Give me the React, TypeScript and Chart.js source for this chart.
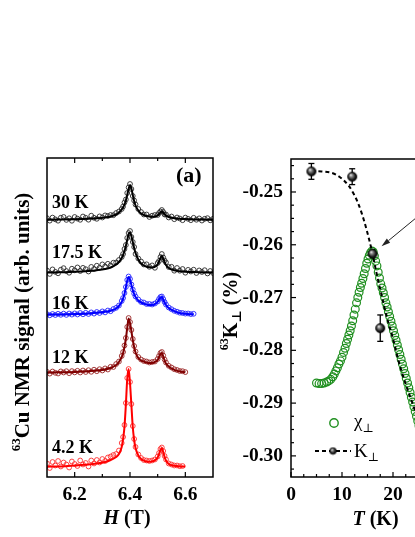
import React, { useEffect, useRef } from "react";
import { Chart, registerables } from "chart.js";

Chart.register(...registerables);

const SERIF = "'Liberation Serif', 'DejaVu Serif', 'Times New Roman', serif";

// ---------------- panel (a): 63Cu NMR spectra ----------------
const fieldFit = [6.10, 6.15, 6.20, 6.25, 6.28, 6.31, 6.33, 6.35, 6.36, 6.37, 6.375, 6.38, 6.385, 6.39, 6.395, 6.40, 6.405, 6.41, 6.415, 6.42, 6.43, 6.44, 6.45, 6.46, 6.47, 6.48, 6.49, 6.50, 6.505, 6.51, 6.515, 6.52, 6.525, 6.53, 6.54, 6.56, 6.58, 6.60, 6.63, 6.67, 6.70];
const fieldData = [6.10, 6.11, 6.12, 6.13, 6.14, 6.15, 6.16, 6.17, 6.18, 6.19, 6.20, 6.21, 6.22, 6.23, 6.24, 6.25, 6.26, 6.27, 6.28, 6.29, 6.30, 6.31, 6.32, 6.33, 6.34, 6.35, 6.36, 6.37, 6.375, 6.38, 6.385, 6.39, 6.395, 6.40, 6.405, 6.41, 6.415, 6.42, 6.43, 6.44, 6.45, 6.46, 6.47, 6.48, 6.49, 6.50, 6.505, 6.51, 6.515, 6.52, 6.525, 6.53, 6.54, 6.55, 6.56, 6.57, 6.58, 6.59, 6.60, 6.61, 6.62, 6.63, 6.64, 6.65, 6.66, 6.67, 6.68, 6.69, 6.70];

const traceLabels = ["30 K", "17.5 K", "16 K", "12 K", "4.2 K"];
const traceOffsets = [257, 204, 162, 104, 10];

const fit30 = [0.3, 0.5, 0.8, 1.3, 1.8, 2.6, 3.5, 5.5, 7.5, 10.5, 12.5, 15.5, 19.5, 25, 31, 35, 31.5, 25, 19, 14.5, 9.5, 6.5, 5, 4, 3.5, 3.3, 3.5, 4.5, 6, 7.5, 8.5, 7.5, 6, 4.5, 3, 1.8, 1.2, 0.9, 0.6, 0.4, 0.3];
const fit175 = [0.5, 0.8, 1.2, 2.0, 2.8, 4.0, 5.5, 8.5, 11, 15, 18, 22, 27, 33, 39, 40.5, 37, 31, 25, 20, 13.5, 9.5, 7.5, 6.2, 5.7, 5.6, 6.2, 8.5, 11.5, 15, 17, 14.5, 11, 8, 5, 2.8, 1.8, 1.3, 0.9, 0.6, 0.5];
const fit16 = [0.3, 0.6, 1.0, 1.6, 2.2, 3.2, 4.2, 6.5, 9, 13, 16.5, 21, 27.5, 34.5, 38, 35.5, 30, 25, 21, 18, 14.5, 12.5, 11.5, 10.5, 10, 10, 10.8, 13, 15.5, 17.5, 18, 15.5, 12.5, 10, 7, 3.8, 2, 1.2, 0.7];
const fit12 = [0.4, 0.7, 1.1, 1.8, 2.5, 3.6, 5, 8, 11, 16, 20, 26, 34, 45, 54.5, 50, 42, 33, 26, 20.5, 15, 12.5, 11.5, 10.5, 10, 10, 11, 13, 16, 19, 20, 16.5, 12.5, 9.5, 6.5, 3.2, 1.6, 0.8];
const fit42 = [0.3, 0.6, 1.5, 2.5, 3.5, 5, 7, 10, 13, 20, 28, 40, 62, 88, 98, 84, 62, 40, 27, 19, 11.5, 8, 6.3, 5.5, 5.3, 5.6, 6.8, 9.5, 13, 17, 19, 15, 10, 6.5, 3, 1.2, 0.6, 0.4];

const data30 = [1.8, -0.65, 2.4, 0.65, -0.7, 2.3, 3.05, 0.1, 1.7, -0.75, 3.0, 1.4, 0.2, 3.5, 2.2, 0.3, 4.3, 2.2, 1.2, 3.6, 2.5, 4.6, 4.0, 5.0, 4.8, 7.0, 8.5, 11, 13.5, 17.5, 20.5, 27, 32.5, 36, 31, 24, 19.5, 15.5, 11, 8, 5.5, 5.5, 3, 4.3, 5, 5, 7, 8.5, 10, 8, 5.5, 5.5, 2.5, 3.5, 0.8, 2.5, 1.5, -0.2, 2.4, 1.2, -0.2, 2.2, 0.25, 1.6, -0.55, 1.2, 1.85, -0.3, 1.2];
const data175 = [2.5, -0.95, 3.6, 1.15, -0.3, 3.3, 4.85, 1.95, 0.25, 4.3, 2.7, 5.55, 2.0, 5.15, 3.8, 1.5, 6.1, 4.0, 7.3, 5.2, 8.6, 6.5, 9.2, 7.5, 10.3, 10.5, 13, 16, 19, 24, 28, 35, 40, 42, 36, 31, 26, 19, 14.5, 11.5, 8.5, 8.7, 6.2, 7.6, 5.2, 10, 12, 16, 19, 15.5, 12.5, 10.5, 6, 6.2, 2.3, 5.0, 2.3, 4.0, 0.3, 3.15, 1.5, 3.3, 0, 2.55, 1.0, 2.8, -0.45, 2.0, 0];
const data16 = [0.8, -0.3, 1.0, 0.0, 1.2, 0.2, 1.4, 0.1, 1.5, 0.4, 1.6, 0.5, 2.0, 0.7, 2.2, 1.0, 2.6, 1.4, 3.0, 2.0, 3.6, 2.6, 4.5, 3.8, 6.0, 7.2, 9.5, 14, 17, 22, 28, 35, 38.5, 36, 30.5, 25.5, 21.5, 18.5, 15.5, 13, 12.5, 11, 11, 10.5, 11.5, 13.5, 16, 18, 18.5, 16, 13, 10.5, 7.5, 5.8, 4.2, 3.3, 2.3, 2.0, 1.4, 1.5, 0.9, 1.2];
const data12 = [1.2, -0.6, 1.5, 0.2, -0.5, 1.6, 0.5, 1.8, -0.2, 1.9, 0.6, 2.2, 0.5, 2.5, 1.0, 2.8, 1.2, 3.3, 1.8, 3.8, 2.5, 4.6, 3.5, 6.2, 6.0, 9.0, 11.5, 17, 21, 27.5, 35, 46, 55, 51, 43, 34, 27, 21.5, 16, 13.5, 12, 11.5, 10.5, 11, 11.5, 14, 17, 20, 21, 17.5, 13.5, 10.5, 7.2, 5.5, 3.8, 3.0, 2.0, 1.8, 0.9];
const data42 = [3.5, -1.0, 5.0, 1.5, 6.0, 0.5, 4.5, 2.5, -0.5, 5.5, 3.0, 1.0, 6.5, 2.5, 4.0, 0.5, 6.5, 3.5, 7.0, 4.5, 8.0, 6.0, 9.5, 10.5, 12, 13, 16.5, 24, 30, 42, 64, 89, 98, 85, 63, 41, 28, 20, 12.5, 9, 7, 6.5, 6, 6.5, 7.5, 10.5, 14, 18, 19.5, 16, 11, 7.5, 3.5, 2.5, 1.5, 1.5, 0.8, 1.0];

const hTicks = [6.2, 6.4, 6.6];
const hMinorTicks = [6.3, 6.5];

// ---------------- panel (b): Knight shift vs T ----------------
const chiT = [5.0, 5.5, 6.0, 6.5, 7.0, 7.4, 7.8, 8.2, 8.5, 8.8, 9.1, 9.4, 9.7, 10.0, 10.3, 10.6, 10.85, 11.1, 11.35, 11.6, 11.85, 12.1, 12.35, 12.6, 12.85, 13.1, 13.35, 13.6, 13.85, 14.1, 14.35, 14.6, 14.85, 15.1, 15.35, 15.6, 15.85, 16.1,
  16.35, 16.6, 16.85, 17.1, 17.35, 17.6, 17.85, 18.1, 18.35, 18.6, 18.85, 19.1, 19.35, 19.6, 19.85, 20.1, 20.35, 20.6, 20.85, 21.1, 21.35, 21.6, 21.85, 22.1, 22.35, 22.6, 22.85, 23.1, 23.35, 23.6, 23.85, 24.1, 24.35, 24.6, 24.85, 25.1, 25.5, 26.0];
const chiK = [-0.2862, -0.2863, -0.2863, -0.2862, -0.2860, -0.2858, -0.2855, -0.2850, -0.2845, -0.2839, -0.2833, -0.2826, -0.2820, -0.2813, -0.2804, -0.2796, -0.2787, -0.2779, -0.2771, -0.2763, -0.2754, -0.2744, -0.2733, -0.2722, -0.2710, -0.2700, -0.2690, -0.2681, -0.2673, -0.2664, -0.2655, -0.2645, -0.2635, -0.2627, -0.2620, -0.2615, -0.2612, -0.2613,
  -0.2621, -0.2631, -0.2640, -0.2652, -0.2663, -0.2674, -0.2682, -0.2691, -0.2700, -0.2710, -0.2718, -0.2727, -0.2736, -0.2745, -0.2754, -0.2763, -0.2772, -0.2781, -0.2790, -0.2799, -0.2808, -0.2817, -0.2826, -0.2835, -0.2844, -0.2853, -0.2862, -0.2871, -0.2880, -0.2889, -0.2898, -0.2907, -0.2916, -0.2925, -0.2934, -0.2943, -0.2957, -0.2975];

const kT = [4, 12, 16, 17.5];
const kVal = [-0.2461, -0.2471, -0.2617, -0.2758];
const kErr = [0.0015, 0.0015, 0.0008, 0.0025];

const guideT = [4.0, 6.0, 7.65, 9.0, 10.25, 11.3, 12.2, 13.1, 13.86, 14.84, 15.82, 16.8, 17.8, 18.76, 20.06, 21.0, 22.35, 23.98, 25.3, 26.5];
const guideK = [-0.2460, -0.2461, -0.2463, -0.2468, -0.2477, -0.2488, -0.2502, -0.2520, -0.2540, -0.2572, -0.2610, -0.2655, -0.2697, -0.2736, -0.2780, -0.2817, -0.2860, -0.2905, -0.2945, -0.2988];

const kTicks = [-0.30, -0.29, -0.28, -0.27, -0.26, -0.25];
const kMinorTicks = [-0.3025, -0.2975, -0.295, -0.2925, -0.2875, -0.285, -0.2825, -0.2775, -0.275, -0.2725, -0.2675, -0.265, -0.2625, -0.2575, -0.255, -0.2525, -0.2475, -0.245];
const tTicks = [0, 10, 20, 30];
const tMinorTicks = [2.5, 5, 7.5, 12.5, 15, 17.5, 22.5, 25, 27.5];

// arrow annotation (data coordinates: tail -> tip)
const arrowFrom = [27.3, -0.2527];
const arrowTo = [17.75, -0.2603];

// ---------------- styles ----------------
const lineColors = ["#000000", "#000000", "#0000ff", "#7f0000", "#ff0000"];
const markColors = ["#2a2a2a", "#2a2a2a", "#2424ff", "#9a2626", "#ff3030"];
const labelLift = [12, 15, 6, 10.5, 14.5];
const GREEN = "#1f8f1f";

function makeSphere(r: number): HTMLCanvasElement {
  const s = Math.ceil(r * 2 + 2);
  const c = document.createElement("canvas");
  c.width = s;
  c.height = s;
  const g = c.getContext("2d")!;
  const cx = s / 2, cy = s / 2;
  const grad = g.createRadialGradient(cx - r * 0.35, cy - r * 0.4, r * 0.05, cx, cy, r);
  grad.addColorStop(0, "#f0f0f0");
  grad.addColorStop(0.3, "#8a8a8a");
  grad.addColorStop(0.75, "#1a1a1a");
  grad.addColorStop(1, "#000000");
  g.fillStyle = grad;
  g.beginPath();
  g.arc(cx, cy, r, 0, Math.PI * 2);
  g.fill();
  g.lineWidth = 0.7;
  g.strokeStyle = "#000";
  g.stroke();
  return c;
}

type Piece = { t: string; font: string; dy: number };
function drawPieces(ctx: CanvasRenderingContext2D, pieces: Piece[], cx: number, baseline: number) {
  let total = 0;
  pieces.forEach((p) => { ctx.font = p.font; total += ctx.measureText(p.t).width; });
  let x = cx - total / 2;
  ctx.textAlign = "left";
  ctx.textBaseline = "alphabetic";
  pieces.forEach((p) => {
    ctx.font = p.font;
    ctx.fillText(p.t, x, baseline + p.dy);
    x += ctx.measureText(p.t).width;
  });
}

function line(ctx: CanvasRenderingContext2D, x1: number, y1: number, x2: number, y2: number) {
  ctx.beginPath();
  ctx.moveTo(x1, y1);
  ctx.lineTo(x2, y2);
  ctx.stroke();
}

const tickFont = { family: SERIF, size: 19.5, weight: "bold" as const };
const noGrid = { display: false, drawTicks: false, tickLength: 0 };

function leftConfig(): any {
  const fits = [fit30, fit175, fit16, fit12, fit42];
  const datas = [data30, data175, data16, data12, data42];
  const fitSets = fits.map((f, i) => ({
    data: f.map((v, j) => ({ x: fieldFit[j], y: v + traceOffsets[i] })),
    borderColor: lineColors[i],
    borderWidth: 2,
    pointRadius: 0,
    cubicInterpolationMode: "monotone",
    fill: false,
    order: 0,
  }));
  const dataSets = datas.map((d, i) => ({
    data: d.map((v, j) => ({ x: fieldData[j], y: v + traceOffsets[i] })),
    showLine: false,
    pointRadius: 2.4,
    pointBorderWidth: 0.9,
    pointBorderColor: markColors[i],
    pointBackgroundColor: "rgba(0,0,0,0)",
    order: 1,
  }));
  const deco = {
    id: "leftDeco",
    afterDraw(chart: any) {
      const { ctx, chartArea: a, scales } = chart;
      const xs = scales.x, ys = scales.y;
      ctx.save();
      ctx.strokeStyle = "#000";
      ctx.lineWidth = 1.5;
      ctx.strokeRect(a.left, a.top, a.right - a.left, a.bottom - a.top);
      ctx.lineWidth = 1.2;
      const tk = (v: number, len: number) => {
        const p = xs.getPixelForValue(v);
        line(ctx, p, a.bottom, p, a.bottom - len);
        line(ctx, p, a.top, p, a.top + len);
      };
      hTicks.forEach((v) => tk(v, 5));
      hMinorTicks.forEach((v) => tk(v, 3));
      ctx.fillStyle = "#000";
      ctx.textAlign = "left";
      ctx.textBaseline = "alphabetic";
      ctx.font = `bold 18px ${SERIF}`;
      traceLabels.forEach((t, i) => {
        ctx.fillText(t, a.left + 5, ys.getPixelForValue(traceOffsets[i] + labelLift[i]));
      });
      ctx.font = `bold 22px ${SERIF}`;
      ctx.fillText("(a)", a.right - 37, a.top + 24);
      // x title
      drawPieces(ctx, [
        { t: "H", font: `italic bold 20px ${SERIF}`, dy: 0 },
        { t: " (T)", font: `bold 20px ${SERIF}`, dy: 0 },
      ], 127, 524);
      // y title
      ctx.save();
      ctx.translate(29, 322);
      ctx.rotate(-Math.PI / 2);
      drawPieces(ctx, [
        { t: "63", font: `bold 13px ${SERIF}`, dy: -9 },
        { t: "Cu NMR signal (arb. units)", font: `bold 21px ${SERIF}`, dy: 0 },
      ], 0, 0);
      ctx.restore();
      ctx.restore();
    },
  };
  return {
    type: "line",
    data: { datasets: [...fitSets, ...dataSets] },
    plugins: [deco],
    options: {
      responsive: false,
      animation: false,
      devicePixelRatio: 1,
      events: [],
      layout: { padding: { left: 47, right: 202, top: 158, bottom: 0 } },
      plugins: { legend: { display: false }, tooltip: { enabled: false } },
      scales: {
        x: {
          type: "linear",
          min: 6.1,
          max: 6.7,
          afterBuildTicks: (s: any) => { s.ticks = hTicks.map((v) => ({ value: v })); },
          afterFit: (s: any) => { s.height = 60; },
          grid: noGrid,
          border: { display: false },
          ticks: { font: tickFont, color: "#000", padding: 6, maxRotation: 0, autoSkip: false, callback: (v: any) => Number(v).toFixed(1) },
        },
        y: { type: "linear", min: 0, max: 319, display: false },
      },
    },
  };
}

function rightConfig(): any {
  const sphere = makeSphere(4.6);
  const smallSphere = makeSphere(3.3);
  const deco = {
    id: "rightDeco",
    beforeDatasetsDraw(chart: any) {
      const { ctx, scales } = chart;
      const xs = scales.x, ys = scales.y;
      ctx.save();
      ctx.strokeStyle = "#000";
      ctx.lineWidth = 1.3;
      kT.forEach((t, i) => {
        const px = xs.getPixelForValue(t);
        const y1 = ys.getPixelForValue(kVal[i] + kErr[i]);
        const y2 = ys.getPixelForValue(kVal[i] - kErr[i]);
        line(ctx, px, y1, px, y2);
        line(ctx, px - 3, y1, px + 3, y1);
        line(ctx, px - 3, y2, px + 3, y2);
      });
      ctx.restore();
    },
    afterDraw(chart: any) {
      const { ctx, chartArea: a, scales } = chart;
      const xs = scales.x, ys = scales.y;
      ctx.save();
      ctx.strokeStyle = "#000";
      ctx.lineWidth = 1.5;
      ctx.strokeRect(a.left, a.top, a.right - a.left, a.bottom - a.top);
      ctx.lineWidth = 1.2;
      kTicks.forEach((v) => { const p = ys.getPixelForValue(v); line(ctx, a.left, p, a.left + 5, p); });
      kMinorTicks.forEach((v) => { const p = ys.getPixelForValue(v); line(ctx, a.left, p, a.left + 3, p); });
      tTicks.forEach((v) => { const p = xs.getPixelForValue(v); line(ctx, p, a.bottom, p, a.bottom - 5); });
      tMinorTicks.forEach((v) => { const p = xs.getPixelForValue(v); line(ctx, p, a.bottom, p, a.bottom - 3); });

      // arrow
      const x1 = xs.getPixelForValue(arrowFrom[0]), y1 = ys.getPixelForValue(arrowFrom[1]);
      const x2 = xs.getPixelForValue(arrowTo[0]), y2 = ys.getPixelForValue(arrowTo[1]);
      const ang = Math.atan2(y2 - y1, x2 - x1);
      const hl = 9, hw = 2.6;
      const bx = x2 - hl * Math.cos(ang), by = y2 - hl * Math.sin(ang);
      ctx.strokeStyle = "#222";
      ctx.lineWidth = 1;
      line(ctx, x1, y1, bx, by);
      ctx.fillStyle = "#222";
      ctx.beginPath();
      ctx.moveTo(x2, y2);
      ctx.lineTo(bx + hw * Math.sin(ang), by - hw * Math.cos(ang));
      ctx.lineTo(bx - hw * Math.sin(ang), by + hw * Math.cos(ang));
      ctx.closePath();
      ctx.fill();

      // legend
      ctx.strokeStyle = GREEN;
      ctx.lineWidth = 1.4;
      ctx.beginPath();
      ctx.arc(a.left + 43, a.bottom - 54, 4.2, 0, Math.PI * 2);
      ctx.stroke();
      ctx.fillStyle = "#000";
      ctx.textAlign = "left";
      ctx.textBaseline = "alphabetic";
      ctx.font = `19px ${SERIF}`;
      ctx.fillText("χ", a.left + 63, a.bottom - 50.5);
      let w = ctx.measureText("χ").width;
      ctx.font = `12px ${SERIF}`;
      ctx.fillText("⊥", a.left + 63 + w, a.bottom - 45.5);
      ctx.strokeStyle = "#000";
      ctx.lineWidth = 2;
      ctx.setLineDash([4, 3]);
      line(ctx, a.left + 24, a.bottom - 26, a.left + 60, a.bottom - 26);
      ctx.setLineDash([]);
      ctx.drawImage(smallSphere, a.left + 42 - smallSphere.width / 2, a.bottom - 26 - smallSphere.height / 2);
      ctx.font = `19px ${SERIF}`;
      ctx.fillText("K", a.left + 63, a.bottom - 20.5);
      w = ctx.measureText("K").width;
      ctx.font = `12px ${SERIF}`;
      ctx.fillText("⊥", a.left + 63 + w, a.bottom - 16);

      // x title
      drawPieces(ctx, [
        { t: "T", font: `italic bold 20px ${SERIF}`, dy: 0 },
        { t: " (K)", font: `bold 20px ${SERIF}`, dy: 0 },
      ], a.left + 84.5, 525);
      // y title
      ctx.save();
      ctx.translate(237, 311);
      ctx.rotate(-Math.PI / 2);
      drawPieces(ctx, [
        { t: "63", font: `bold 12px ${SERIF}`, dy: -9 },
        { t: "K", font: `bold 20px ${SERIF}`, dy: 0 },
        { t: "⊥", font: `bold 13px ${SERIF}`, dy: 4 },
        { t: " (%)", font: `bold 20px ${SERIF}`, dy: 0 },
      ], 0, 0);
      ctx.restore();
      ctx.restore();
    },
  };
  return {
    type: "line",
    data: {
      datasets: [
        {
          data: kT.map((t, i) => ({ x: t, y: kVal[i] })),
          showLine: false,
          pointStyle: sphere,
          pointRadius: 4.6,
          order: 0,
        },
        {
          data: guideT.map((t, i) => ({ x: t, y: guideK[i] })),
          borderColor: "#000",
          borderWidth: 2,
          borderDash: [4, 3],
          pointRadius: 0,
          cubicInterpolationMode: "monotone",
          fill: false,
          order: 1,
        },
        {
          data: chiT.map((t, i) => ({ x: t, y: chiK[i] })),
          showLine: false,
          pointRadius: 3.9,
          pointBorderWidth: 1.2,
          pointBorderColor: GREEN,
          pointBackgroundColor: "rgba(0,0,0,0)",
          order: 2,
        },
      ],
    },
    plugins: [deco],
    options: {
      responsive: false,
      animation: false,
      devicePixelRatio: 1,
      events: [],
      layout: { padding: { left: 232, right: 116, top: 159, bottom: 0 } },
      plugins: { legend: { display: false }, tooltip: { enabled: false } },
      scales: {
        x: {
          type: "linear",
          min: 0,
          max: 30,
          afterBuildTicks: (s: any) => { s.ticks = tTicks.map((v) => ({ value: v })); },
          afterFit: (s: any) => { s.height = 60; },
          grid: noGrid,
          border: { display: false },
          ticks: { font: tickFont, color: "#000", padding: 6, maxRotation: 0, autoSkip: false, callback: (v: any) => String(Math.round(Number(v))) },
        },
        y: {
          type: "linear",
          position: "left",
          min: -0.304,
          max: -0.24375,
          afterBuildTicks: (s: any) => { s.ticks = kTicks.map((v) => ({ value: v })); },
          afterFit: (s: any) => { s.width = 59; },
          grid: noGrid,
          border: { display: false },
          ticks: { font: tickFont, color: "#000", padding: 8, autoSkip: false, callback: (v: any) => Number(v).toFixed(2) },
        },
      },
    },
  };
}

export default function App() {
  const leftRef = useRef<HTMLCanvasElement>(null);
  const rightRef = useRef<HTMLCanvasElement>(null);
  useEffect(() => {
    const c1 = new Chart(leftRef.current!, leftConfig());
    const c2 = new Chart(rightRef.current!, rightConfig());
    return () => {
      c1.destroy();
      c2.destroy();
    };
  }, []);
  return (
    <div style={{ position: "fixed", left: 0, top: 0, width: 415, height: 537, overflow: "hidden", background: "#fff" }}>
      <canvas ref={leftRef} width={415} height={537} style={{ position: "absolute", left: 0, top: 0, width: 415, height: 537 }} />
      <canvas ref={rightRef} width={560} height={537} style={{ position: "absolute", left: 0, top: 0, width: 560, height: 537 }} />
    </div>
  );
}
